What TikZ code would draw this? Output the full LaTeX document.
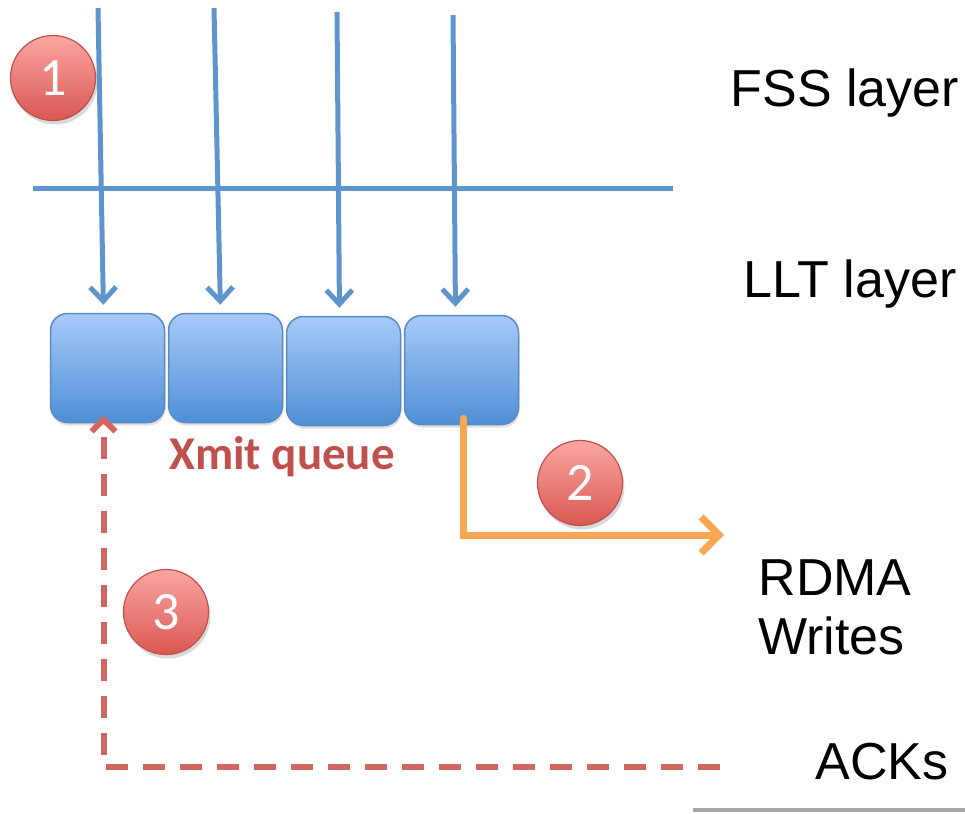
\documentclass[tikz,border=0pt]{standalone}
\usepackage{fontspec}
\setmainfont{Liberation Sans}
\newfontfamily\calib{Carlito}
\usetikzlibrary{positioning,arrows.meta,shadows}
\definecolor{feedblue}{HTML}{5F95CD}
\definecolor{boxtop}{HTML}{A7CAF9}
\definecolor{boxbot}{HTML}{4F8FD6}
\definecolor{boxline}{HTML}{5A8AC2}
\definecolor{badgetop}{HTML}{FAA6A2}
\definecolor{badgebot}{HTML}{DA5852}
\definecolor{badgeline}{HTML}{C0504D}
\definecolor{ackred}{HTML}{D0665F}
\definecolor{xmitred}{HTML}{C0504D}
\definecolor{rdmaorange}{HTML}{F9A654}
\begin{document}
\begin{tikzpicture}[x=1pt, y=-1pt,
	queue/.style={rectangle, draw=boxline, line width=1.5pt, rounded corners=17pt, top color=boxtop, bottom color=boxbot, minimum width=114pt, minimum height=109pt, inner sep=0pt, drop shadow={opacity=0.25, shadow xshift=1pt, shadow yshift=-3pt}},
	badge/.style={circle, draw=badgeline, line width=1.2pt, top color=badgetop, bottom color=badgebot, minimum size=85pt, inner sep=0pt, text=white, font=\calib\fontsize{54}{54}\selectfont, drop shadow={opacity=0.3, shadow xshift=2pt, shadow yshift=-4pt}},
	layer/.style={font=\fontsize{52}{59}\selectfont, align=left, inner sep=0pt},
	feed/.style={draw=feedblue, line width=5pt, -{Straight Barb[length=14pt, width=26pt, line width=5pt]}, shorten >=8pt},
	send/.style={draw=rdmaorange, line width=7pt, line cap=round, -{Straight Barb[length=18pt, width=36pt, line width=7pt]}},
	ack/.style={draw=ackred, line width=6pt, dash pattern=on 22pt off 15pt, -{Straight Barb[length=12pt, width=24pt, line width=6pt]}}]
	\useasboundingbox (0,0) rectangle (965,813);

	% transmit queue
	\node[queue] (q1) at (107.5,368) {};
	\node[queue, right=2.5pt of q1] (q2) {};
	\node[queue, right=2.5pt of q2, yshift=-3pt] (q3) {};
	\node[queue, right=2.5pt of q3, yshift=1pt] (q4) {};
	\node[font=\calib\bfseries\fontsize{47}{47}\selectfont, text=xmitred] (xmit) at (282,457) {Xmit queue};

	% layer boundary
	\coordinate (lb-left) at (33,188);
	\coordinate (lb-right) at (673,188);
	\draw[draw=feedblue, line width=5pt] (lb-left) -- (lb-right);

	% incoming requests
	\coordinate (in1) at (98,8);
	\coordinate (in2) at (214,8);
	\coordinate (in3) at (337,12);
	\coordinate (in4) at (453,15);
	\draw[feed] (in1) -- ([xshift=-4pt]q1.north);
	\draw[feed] (in2) -- ([xshift=-5pt]q2.north);
	\draw[feed] (in3) -- ([xshift=-4pt]q3.north);
	\draw[feed] (in4) -- ([xshift=-6pt]q4.north);

	% labels
	\node[layer] (fss) at (845,93) {FSS layer};
	\node[layer] (llt) at (850,284) {LLT layer};
	\node[layer] (rdma) at (835,607) {RDMA\\Writes};
	\node[layer] (acks) at (882,762) {ACKs};
	\draw[draw=black!35, line width=4pt] (693,810) -- (965,810);

	% RDMA writes
	\coordinate (wr-out) at (724,535);
	\draw[send] ([xshift=2pt, yshift=7pt]q4.south) |- (wr-out);

	% ACKs back to the queue
	\coordinate (ack-in) at (720,767);
	\draw[ack] (ack-in) -| ([xshift=-4pt, yshift=8pt]q1.south);

	% steps
	\node[badge] (s1) at (53,78) {1};
	\node[badge] (s2) at (580,483) {2};
	\node[badge] (s3) at (166,612) {3};
\end{tikzpicture}
\end{document}
